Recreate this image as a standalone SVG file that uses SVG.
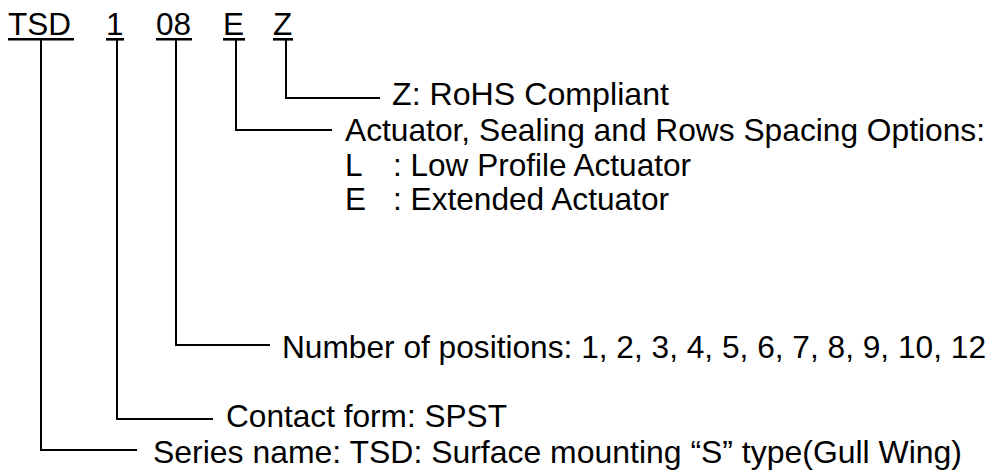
<svg xmlns="http://www.w3.org/2000/svg" width="996" height="470" viewBox="0 0 996 470">
<style>
text{font-family:"Liberation Sans",Arial,sans-serif;font-size:31.5px;fill:#000}
.ul{stroke:#000;stroke-width:2.6;fill:none}
.c{stroke:#000;stroke-width:2;fill:none}
</style>
<rect width="996" height="470" fill="#fff"/>
<g id="code-TSD"><text x="8" y="35">TSD</text><line class="ul" x1="8" y1="39.3" x2="74" y2="39.3"/></g>
<g id="code-1"><text x="106" y="35">1</text><line class="ul" x1="106" y1="39.3" x2="124" y2="39.3"/></g>
<g id="code-08"><text x="156" y="35">08</text><line class="ul" x1="156" y1="39.3" x2="192" y2="39.3"/></g>
<g id="code-E"><text x="223" y="35">E</text><line class="ul" x1="223" y1="39.3" x2="245" y2="39.3"/></g>
<g id="code-Z"><text x="273" y="35">Z</text><line class="ul" x1="273" y1="39.3" x2="293" y2="39.3"/></g>
<g id="connectors">
<polyline class="c" points="286,40 286,98 380,98"/>
<polyline class="c" points="236,40 236,130 332,130"/>
<polyline class="c" points="176,40 176,345 270,345"/>
<polyline class="c" points="117,40 117,419 213,419"/>
<polyline class="c" points="41,40 41,450 137,450"/>
</g>
<g id="desc-Z"><text x="392" y="105" textLength="277" lengthAdjust="spacingAndGlyphs">Z: RoHS Compliant</text></g>
<g id="desc-E">
<text x="345" y="141" textLength="640" lengthAdjust="spacingAndGlyphs">Actuator, Sealing and Rows Spacing Options:</text>
<text x="345" y="176">L</text><text x="393" y="176" textLength="298" lengthAdjust="spacingAndGlyphs">: Low Profile Actuator</text>
<text x="345" y="210">E</text><text x="393" y="210" textLength="276" lengthAdjust="spacingAndGlyphs">: Extended Actuator</text>
</g>
<g id="desc-08"><text x="282" y="358" textLength="704" lengthAdjust="spacingAndGlyphs">Number of positions: 1, 2, 3, 4, 5, 6, 7, 8, 9, 10, 12</text></g>
<g id="desc-1"><text x="226" y="427" textLength="281" lengthAdjust="spacingAndGlyphs">Contact form: SPST</text></g>
<g id="desc-TSD"><text x="153" y="463" textLength="809" lengthAdjust="spacingAndGlyphs">Series name: TSD: Surface mounting “S” type(Gull Wing)</text></g>
</svg>
